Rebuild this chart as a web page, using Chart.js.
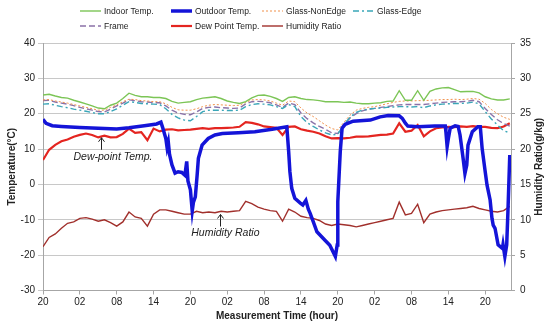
<!DOCTYPE html>
<html>
<head>
<meta charset="utf-8">
<script src="https://cdn.jsdelivr.net/npm/chart.js@4.4.1/dist/chart.umd.min.js"></script>
<style>
  html, body { margin: 0; padding: 0; background: #fff; }
</style>
</head>
<body>
<canvas id="myChart" width="550" height="328"></canvas>
<script>
'use strict';

// hours since the first 20:00 reading
const hours = [0,1,2,3,4,5,6,7,8,9,10,11,12,13,14,15,16,17,18,19,20,21,22,23,24,25,26,27,28,29,30,31,32,33,34,35,36,37,38,39,40,41,42,43,44,45,46,47,48,49,50,51,52,53,54,55,56,57,58,59,60,61,62,63,64,65,66,67,68,69,70,71,72,73,74,75,76];

const indoorTemp = [25.3,25.5,25.0,24.6,24.4,23.8,23.3,22.8,22.2,21.6, 21.4,22.4,23.0,24.3,25.8,25.2,24.8,24.8,24.6,24.6, 24.3,23.5,23.0,23.2,23.4,24.0,24.4,24.6,24.8,24.3, 23.6,23.2,22.9,23.4,24.5,25.2,25.3,24.9,24.3,23.5, 24.6,24.8,24.3,24.0,23.9,23.7,23.4,23.4,23.4,23.2, 23.3,23.0,22.8,22.8,23.0,23.1,23.5,23.6,26.5,23.8, 23.8,26.5,23.8,26.3,27.0,27.3,27.4,26.8,26.2,26.3, 26.3,25.9,24.8,24.2,23.9,23.9,24.2];
const glassNonEdge = [23.9,24.0,23.6,23.3,23.0,22.6,22.2,21.8,21.4,21.0, 21.0,21.8,22.5,23.4,24.1,24.0,23.7,23.6,23.4,23.4, 22.8,21.8,21.1,21.0,21.0,21.4,22.0,22.4,22.6,22.5, 22.4,22.3,22.4,23.2,23.9,24.0,23.9,23.6,23.0,22.4, 23.6,23.4,21.6,20.2,19.2,18.0,16.8,15.8,15.4,17.6, 19.6,21.0,21.5,21.8,22.0,22.4,22.8,23.2,23.5,23.6, 23.6,23.7,23.7,23.8,23.9,24.0,24.0,24.1,24.0,24.1, 24.3,24.1,22.9,21.2,20.0,19.0,18.4];
const glassEdge = [22.7,22.8,22.4,22.0,21.7,21.3,21.0,20.7,20.3,20.0, 20.0,20.6,21.4,22.4,23.4,23.2,22.9,22.8,22.7,22.6, 21.4,19.8,18.8,18.2,18.0,19.2,20.6,21.0,21.0,21.0, 20.9,20.9,21.0,22.0,22.6,22.8,22.7,22.5,22.0,21.5, 22.6,22.0,19.2,17.5,16.4,15.4,14.6,14.0,14.2,17.0, 19.0,20.4,21.0,21.3,21.5,21.6,21.8,21.9,22.0,22.0, 21.9,22.0,21.7,22.2,22.5,22.7,22.8,22.9,22.9,23.0, 23.3,22.8,20.6,18.5,16.8,15.2,14.6];
const frameTemp = [23.7,23.8,23.3,23.0,22.7,22.3,21.8,21.4,21.0,20.6, 20.5,21.3,22.2,23.0,23.9,23.7,23.4,23.3,23.1,23.1, 22.2,21.0,20.2,19.8,19.7,20.5,21.5,21.8,21.9,21.7, 21.6,21.5,21.6,22.8,23.4,23.5,23.4,23.1,22.5,21.8, 23.0,22.6,20.2,18.6,17.4,16.4,15.6,14.6,14.4,16.8, 18.8,20.0,20.8,21.3,21.5,21.8,22.0,22.3,22.5,22.6, 22.6,22.6,22.6,22.8,23.0,23.2,23.3,23.4,23.4,23.5, 23.8,23.4,21.5,19.8,18.3,17.2,16.5];
const dewPoint = [6.9,9.8,11.2,12.2,12.7,13.5,14.0,14.4,14.0,13.3, 13.8,13.3,13.4,14.3,15.8,14.6,14.8,12.5,15.8,15.0, 15.5,15.6,15.3,15.4,15.5,15.7,15.9,15.7,15.9,15.9, 16.0,16.1,16.3,17.6,17.4,17.0,16.4,16.2,16.0,14.0, 16.3,16.4,15.6,15.2,14.9,14.4,13.6,13.0,13.1,13.0, 13.2,13.5,13.5,13.6,13.8,14.0,14.1,14.4,17.3,14.9, 15.2,16.8,13.6,15.0,15.9,16.1,16.3,16.2,16.4,16.3, 16.5,16.3,16.3,16.0,15.9,16.4,17.3];
const humidityRatio = [6.2,7.5,8.0,8.8,9.5,9.7,10.2,10.3,10.1,9.8, 10.0,9.6,9.1,9.7,11.1,10.4,10.2,9.1,10.8,11.4, 11.4,11.2,11.0,10.8,10.8,11.2,11.0,11.1,11.0,11.2, 11.1,11.2,11.3,12.6,12.3,11.8,11.5,11.3,11.2,9.8, 11.5,11.1,10.5,10.3,10.2,9.9,9.4,9.2,9.4,9.3, 9.2,9.0,9.2,9.4,9.6,9.8,10.0,10.2,12.5,10.7, 10.9,12.2,9.6,10.8,11.1,11.3,11.4,11.5,11.6,11.7, 11.9,11.6,11.4,11.2,11.1,11.3,11.9];

// outdoor has sharp drops, so it gets its own time points
const outdoorHours = [0,0.5,1.5,3,6,9,12,14,16.5,18.5,19.2,19.5,19.8,20.0,20.2,20.4,20.6,21.0,21.5,22,22.6,23.1,23.4,23.6,24.0,24.3,24.5,24.8,25.1,25.3,25.9,26.9,28,29.2,31.8,34.5,37.3,39.7,40.0,40.2,40.5,41,41.9,42.3,42.8,43.2,43.5,44,44.6,45.6,46.7,47.2,47.6,47.9,48.0,48.4,48.7,49.2,50.5,53.3,54.9,56.2,58.0,58.5,59.0,59.4,61,63.8,65.5,65.6,65.8,66.0,66.3,67.1,67.6,67.9,68.4,68.7,69.0,69.2,69.9,70.8,71.2,71.5,72.0,72.3,72.8,73.1,73.3,73.6,74.1,74.8,74.9,75.2,75.5,75.7,76.0];
const outdoorTemp = [18.4,17.3,16.6,16.4,16.1,15.9,15.7,16.0,16.6,17.1,17.6,16.0,14.2,13.0,10.5,12.0,8.5,5.5,3.2,3.6,3.4,2.6,6.5,1.0,-1.5,-7.5,-5.0,-3.5,2.7,7.4,11.1,13.0,14.0,14.4,14.6,14.9,15.6,16.3,9.3,3.6,-1.1,-3.9,-5.3,-5.8,-4.5,-7.0,-8.2,-10.5,-13.4,-15.2,-17.2,-19.0,-20.4,-17.1,-4.9,9.3,15.9,17.0,17.9,18.2,19.1,19.5,19.4,18.7,17.3,16.5,16.3,16.5,16.5,14.9,10.7,13.0,15.9,16.6,16.4,14.0,7.4,3.1,5.5,11.1,14.9,16.3,16.3,10.2,3.6,-0.2,-4.4,-9.6,-11.5,-12.4,-17.1,-18.1,-17.0,-20.4,-17.1,-7.7,8.3];

const tempTicks = [-30, 40];
const humidTicks = [0, 35];

function toPoints(xs, ys) {
  return xs.map((x, i) => ({ x: x, y: ys[i] }));
}

function hourLabel(v) {
  let h = (20 + v) % 24;
  return (h < 10 ? '0' : '') + h;
}

// text notes with arrows, in data units
const notes = [
  { text: 'Dew-point Temp.', tx: 11.4, ty: 7.7, ax: 9.5, from: 9.8, to: 13.2 },
  { text: 'Humidity Ratio', tx: 29.7, ty: -13.8, ax: 28.8, from: -11.9, to: -8.5 }
];

const FONT = '"Liberation Sans", Arial, sans-serif';

const extras = {
  id: 'extras',
  afterDraw(chart) {
    const ctx = chart.ctx;
    const xs = chart.scales.x;
    const ys = chart.scales.y;
    ctx.save();

    // legend, two rows in columns like the excel one
    ctx.font = '8.5px ' + FONT;
    ctx.textBaseline = 'middle';
    ctx.textAlign = 'left';
    chart.data.datasets.forEach(function(ds, i) {
      let col = i < 4 ? i : i - 4;
      let row = i < 4 ? 0 : 1;
      let lx = 80 + col * 91;
      let ly = 11 + row * 15;
      ctx.strokeStyle = ds.borderColor;
      ctx.lineWidth = ds.borderWidth;
      ctx.setLineDash(ds.borderDash || []);
      ctx.beginPath();
      ctx.moveTo(lx, ly);
      ctx.lineTo(lx + 21, ly);
      ctx.stroke();
      ctx.setLineDash([]);
      ctx.fillStyle = '#222';
      ctx.fillText(ds.label, lx + 24, ly + 0.5);
    });

    // notes
    ctx.font = 'italic 10.5px ' + FONT;
    ctx.textAlign = 'center';
    ctx.strokeStyle = '#222';
    ctx.lineWidth = 1;
    notes.forEach(function(n) {
      let x = Math.round(xs.getPixelForValue(n.ax)) + 0.5;
      let y1 = ys.getPixelForValue(n.from);
      let y2 = ys.getPixelForValue(n.to);
      ctx.beginPath();
      ctx.moveTo(x, y1);
      ctx.lineTo(x, y2);
      ctx.moveTo(x - 3, y2 + 4);
      ctx.lineTo(x, y2);
      ctx.lineTo(x + 3, y2 + 4);
      ctx.stroke();
      ctx.fillText(n.text, xs.getPixelForValue(n.tx), ys.getPixelForValue(n.ty));
    });

    // right axis title reads bottom to top
    ctx.font = 'bold 10px ' + FONT;
    ctx.translate(539, (chart.chartArea.top + chart.chartArea.bottom) / 2);
    ctx.rotate(-Math.PI / 2);
    ctx.fillText('Humidity Ratio(g/kg)', 0, 0);
    ctx.restore();
  }
};

let chartCanvas = document.getElementById('myChart');

new Chart(chartCanvas, {
  type: 'line',
  data: {
    datasets: [{
      label: 'Indoor Temp.',
      data: toPoints(hours, indoorTemp),
      borderColor: '#7cc556',
      borderWidth: 1.4
    }, {
      label: 'Outdoor Temp.',
      data: toPoints(outdoorHours, outdoorTemp),
      borderColor: '#1414d8',
      borderWidth: 3.5,
      order: -1
    }, {
      label: 'Glass-NonEdge',
      data: toPoints(hours, glassNonEdge),
      borderColor: '#f0904a',
      borderWidth: 1,
      borderDash: [2, 2]
    }, {
      label: 'Glass-Edge',
      data: toPoints(hours, glassEdge),
      borderColor: '#3aa6b8',
      borderWidth: 1.4,
      borderDash: [6, 3, 2, 3]
    }, {
      label: 'Frame',
      data: toPoints(hours, frameTemp),
      borderColor: '#8a72a8',
      borderWidth: 1.4,
      borderDash: [6, 3]
    }, {
      label: 'Dew Point Temp.',
      data: toPoints(hours, dewPoint),
      borderColor: '#e42520',
      borderWidth: 2.2
    }, {
      label: 'Humidity Ratio',
      data: toPoints(hours, humidityRatio),
      borderColor: '#a1302c',
      borderWidth: 1.4,
      yAxisID: 'y1'
    }]
  },
  options: {
    responsive: false,
    animation: false,
    devicePixelRatio: 1,
    elements: { point: { radius: 0 }, line: { tension: 0 } },
    layout: { padding: { top: 43, left: 0, right: 0, bottom: 0 } },
    plugins: { legend: { display: false }, tooltip: { enabled: false } },
    scales: {
      x: {
        type: 'linear',
        min: 0,
        max: 76.2,
        afterFit: function(s) { s.height = 37.5; },
        grid: { drawOnChartArea: false, drawTicks: true, tickLength: 4, color: '#a6a6a6' },
        border: { color: '#a6a6a6' },
        ticks: {
          stepSize: 6,
          includeBounds: false,
          maxRotation: 0,
          autoSkip: false,
          padding: 2,
          color: '#222',
          font: { family: FONT, size: 10 },
          callback: hourLabel
        },
        title: {
          display: true,
          text: 'Measurement Time (hour)',
          color: '#222',
          font: { family: FONT, size: 10, weight: 'bold' },
          padding: { top: 0, bottom: 6 }
        }
      },
      y: {
        position: 'left',
        min: tempTicks[0],
        max: tempTicks[1],
        afterFit: function(s) { s.width = 43; },
        grid: { color: '#c8c8c8', tickLength: 5, drawTicks: true },
        border: { color: '#a6a6a6' },
        ticks: {
          stepSize: 10,
          padding: 3,
          color: '#222',
          font: { family: FONT, size: 10 }
        },
        title: {
          display: true,
          text: 'Temperature(\u00b0C)',
          color: '#222',
          font: { family: FONT, size: 10, weight: 'bold' },
          padding: { top: 6, bottom: 0 }
        }
      },
      y1: {
        position: 'right',
        min: humidTicks[0],
        max: humidTicks[1],
        afterFit: function(s) { s.width = 39; },
        grid: { drawOnChartArea: false, drawTicks: true, tickLength: 4, color: '#a6a6a6' },
        border: { color: '#a6a6a6' },
        ticks: {
          stepSize: 5,
          padding: 5,
          color: '#222',
          font: { family: FONT, size: 10 }
        }
      }
    }
  },
  plugins: [extras]
});
</script>
</body>
</html>
